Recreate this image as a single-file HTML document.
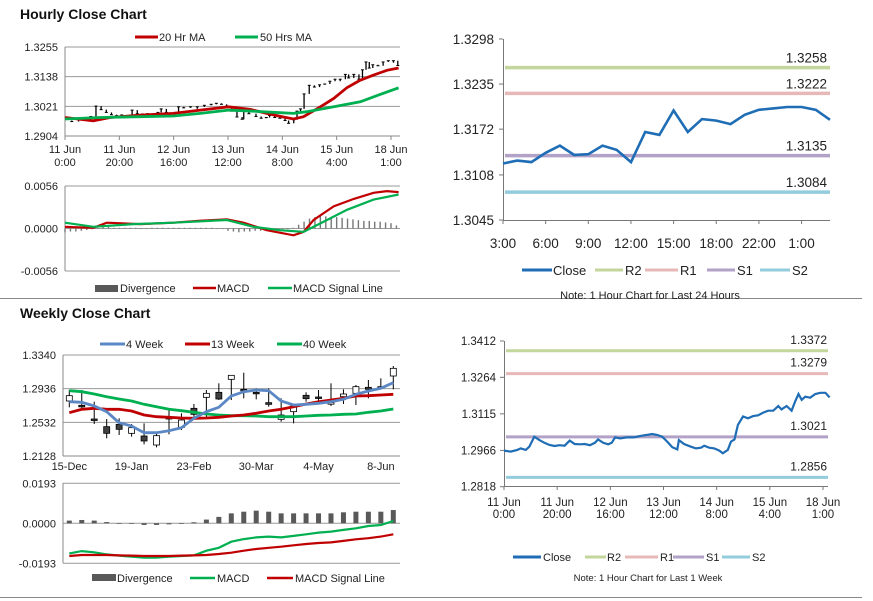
<!DOCTYPE html>
<html><head><meta charset="utf-8"><style>
body{margin:0;background:#fff;}
svg{display:block;font-family:"Liberation Sans",Arial,sans-serif;}
</style></head><body>
<svg id="c" width="873" height="601" viewBox="0 0 873 601" xmlns="http://www.w3.org/2000/svg">
<rect width="873" height="601" fill="#fff"/>
<text x="20" y="19" font-size="14" font-weight="bold" fill="#111">Hourly Close Chart</text>
<text x="20" y="318" font-size="14" font-weight="bold" fill="#111">Weekly Close Chart</text>
<line x1="0" y1="298.5" x2="862" y2="298.5" stroke="#888"/>
<line x1="0" y1="597.5" x2="862" y2="597.5" stroke="#888"/>
<g font-size="11" fill="#222">
<g><line x1="135" y1="37" x2="158" y2="37" stroke="#c00000" stroke-width="3"/><text x="159" y="41">20 Hr MA</text></g>
<g><line x1="235" y1="37" x2="258" y2="37" stroke="#00b050" stroke-width="3"/><text x="260" y="41">50 Hrs MA</text></g>
<g><rect x="95" y="285" width="23" height="7" fill="#595959"/><text x="120" y="292">Divergence</text></g>
<g><line x1="193" y1="288" x2="216" y2="288" stroke="#c00000" stroke-width="2.5"/><text x="217" y="292">MACD</text></g>
<g><line x1="268" y1="288" x2="292" y2="288" stroke="#00b050" stroke-width="2.5"/><text x="293" y="292">MACD Signal Line</text></g>
<g><line x1="100" y1="344" x2="125" y2="344" stroke="#5b87c5" stroke-width="3"/><text x="126" y="348">4 Week</text></g>
<g><line x1="185" y1="344" x2="210" y2="344" stroke="#c00000" stroke-width="3"/><text x="211" y="348">13 Week</text></g>
<g><line x1="277" y1="344" x2="302" y2="344" stroke="#00b050" stroke-width="3"/><text x="303" y="348">40 Week</text></g>
<g><rect x="92" y="574" width="24" height="7" fill="#595959"/><text x="117" y="582">Divergence</text></g>
<g><line x1="190" y1="578" x2="215" y2="578" stroke="#00b050" stroke-width="2.5"/><text x="217" y="582">MACD</text></g>
<g><line x1="267" y1="578" x2="293" y2="578" stroke="#c00000" stroke-width="2.5"/><text x="295" y="582">MACD Signal Line</text></g>
</g>
<g font-size="13" fill="#222">
<g><line x1="522" y1="270" x2="552" y2="270" stroke="#1f6db5" stroke-width="3"/><text x="553" y="275">Close</text></g>
<g><line x1="595" y1="270" x2="623" y2="270" stroke="#c3d69b" stroke-width="3"/><text x="625" y="275">R2</text></g>
<g><line x1="645" y1="270" x2="678" y2="270" stroke="#e6b9b8" stroke-width="3"/><text x="680" y="275">R1</text></g>
<g><line x1="707" y1="270" x2="735" y2="270" stroke="#b3a2c7" stroke-width="3"/><text x="737" y="275">S1</text></g>
<g><line x1="760" y1="270" x2="790" y2="270" stroke="#93cddd" stroke-width="3"/><text x="792" y="275">S2</text></g>
</g>
<text x="650" y="299" font-size="11" text-anchor="middle" fill="#222">Note: 1 Hour Chart for Last 24 Hours</text>
<g font-size="11" fill="#222">
<g><line x1="513" y1="557" x2="541" y2="557" stroke="#1f6db5" stroke-width="3"/><text x="543" y="561">Close</text></g>
<g><line x1="585" y1="557" x2="606" y2="557" stroke="#c3d69b" stroke-width="3"/><text x="607" y="561">R2</text></g>
<g><line x1="625" y1="557" x2="658" y2="557" stroke="#e6b9b8" stroke-width="3"/><text x="660" y="561">R1</text></g>
<g><line x1="673" y1="557" x2="704" y2="557" stroke="#b3a2c7" stroke-width="3"/><text x="706" y="561">S1</text></g>
<g><line x1="722" y1="557" x2="750" y2="557" stroke="#93cddd" stroke-width="3"/><text x="752" y="561">S2</text></g>
</g>
<text x="648" y="581" font-size="9.5" text-anchor="middle" fill="#222">Note: 1 Hour Chart for  Last 1 Week</text>
</svg>
<script>
// ---- data ----
const weekHours=[0,2.5,5,6.3,8.2,9.5,11.4,13.3,15.2,17.1,19,20.9,22.8,24.7,26.6,28.5,30.4,32.3,34.2,35.4,37.3,39.2,40.5,41.8,43.7,46.2,48.7,51.3,53.8,55.7,57.6,59.5,61.4,63.3,65.2,65.8,67.7,70.3,72.2,74.1,75.3,77.2,79.1,81,82.3,84.2,85.4,86.7,88,89.9,91.8,93.7,95.6,97.5,99.4,101.3,103.2,104.4,106.3,108.2,109.5,110.8,112,113.3,115.2,117.1,119,120.9,122.5];
const weekClose=[1.2965,1.2961,1.2968,1.2974,1.2968,1.2981,1.3022,1.3008,1.2997,1.2988,1.2984,1.2987,1.2985,1.3006,1.2992,1.2991,1.2992,1.2987,1.2997,1.3011,1.2997,1.2991,1.2997,1.3019,1.3015,1.3019,1.3019,1.3025,1.3029,1.3033,1.3029,1.3022,1.3002,1.2979,1.2970,1.3008,1.2992,1.2981,1.2974,1.2977,1.2985,1.2977,1.2974,1.2965,1.2954,1.2968,1.3002,1.3011,1.3070,1.3104,1.3097,1.3106,1.3109,1.3120,1.3128,1.3128,1.3147,1.3133,1.3147,1.3128,1.3165,1.3196,1.3172,1.3185,1.3181,1.3196,1.3201,1.3201,1.3182];
const ma20Hours=[0,10.4,16.6,27.6,39.9,49.8,60.2,68.2,74.3,79.9,84.1,87.8,94,98.9,103.8,108.7,113.6,118.5,122.8];
const ma20=[1.2977,1.2964,1.2977,1.2986,1.2993,1.3006,1.3019,1.3009,1.2993,1.2980,1.2971,1.2980,1.3019,1.3052,1.3095,1.3124,1.3144,1.3163,1.3172];
const ma50Hours=[0,12.9,27.6,39.9,49.8,60.2,69.4,79.2,84.1,89,98.9,108.7,116,122.8];
const ma50=[1.2971,1.2977,1.2980,1.2983,1.2993,1.3006,1.3002,1.2996,1.2993,1.3000,1.3019,1.3039,1.3068,1.3094];
const hMacdHours=[0,10.4,15.4,27.6,39.9,49.8,59.6,65.7,74.3,84.1,87.8,91.5,98.9,106.3,113.6,118.5,122.8];
const hMacd=[0.00022,0.00009,0.00076,0.00058,0.00076,0.00103,0.00121,0.00076,-0.00022,-0.00090,-0.00045,0.00112,0.00291,0.00390,0.00470,0.00493,0.00479];
const hSigHours=[0,10.4,25.2,39.9,59.6,69.4,79.2,87.8,94,103.8,113.6,122.8];
const hSig=[0.00076,0.00022,0.00058,0.00076,0.00112,0.00022,-0.00022,-0.00045,0.00067,0.00246,0.00381,0.00448];
const hDiv=[-0.0005,-0.0004,-0.0004,-0.0003,-0.0002,-0.0001,0.0001,0.0002,0.0002,0.0001,0.0001,0.0001,0.0001,0.0001,0.0000,0.0000,0.0001,0.0001,0.0001,0.0001,0.0001,0.0001,0.0001,0.0001,0.0001,0.0001,0.0001,0.0001,0.0000,0.0000,-0.0003,-0.0004,-0.0005,-0.0004,-0.0004,-0.0003,-0.0003,-0.0003,-0.0002,-0.0002,-0.0001,-0.0001,0.0001,0.0005,0.0009,0.0013,0.0015,0.0016,0.0016,0.0015,0.0015,0.0014,0.0013,0.0012,0.0011,0.0010,0.0010,0.0009,0.0009,0.0008,0.0007,0.0004];
const dayClose=[1.3124,1.3128,1.3126,1.3139,1.3149,1.3136,1.3137,1.3149,1.3143,1.3126,1.3168,1.3164,1.3198,1.3168,1.3186,1.3184,1.3179,1.3192,1.3199,1.3201,1.3203,1.3203,1.3199,1.3185];
const dayTicks=["3:00","6:00","9:00","12:00","15:00","18:00","22:00","1:00"];
const dayLevelNames=["R2","R1","S1","S2"];
const dayLevels=[1.3258,1.3222,1.3135,1.3084];
const weekLevels=[1.3372,1.3279,1.3021,1.2856];
const hourTicksTop=["11 Jun","11 Jun","12 Jun","13 Jun","14 Jun","15 Jun","18 Jun"];
const hourTicksBot=["0:00","20:00","16:00","12:00","8:00","4:00","1:00"];
const hPriceTicks=[1.2904,1.3021,1.3138,1.3255];
const hMacdTicks=[-0.0056,0.0000,0.0056];
const dayPriceTicks=[1.3045,1.3108,1.3172,1.3235,1.3298];
const wkPriceTicks=[1.2818,1.2966,1.3115,1.3264,1.3412];
const wOpen=[1.2788,1.2736,1.2572,1.2480,1.2508,1.2400,1.2368,1.2260,1.2592,1.2472,1.2700,1.2832,1.2892,1.3048,1.2928,1.2892,1.2768,1.2568,1.2660,1.2856,1.2836,1.2752,1.2840,1.2880,1.2952,1.2960,1.3088];
const wClose=[1.2852,1.2720,1.2556,1.2400,1.2448,1.2468,1.2308,1.2372,1.2572,1.2560,1.2628,1.2880,1.2812,1.3096,1.2912,1.2876,1.2748,1.2620,1.2728,1.2816,1.2828,1.2768,1.2872,1.2960,1.2928,1.2944,1.3180];
const wHigh=[1.2920,1.2920,1.2780,1.2572,1.2580,1.2512,1.2520,1.2408,1.2680,1.2640,1.2752,1.2920,1.3000,1.3096,1.3128,1.2940,1.2940,1.2820,1.2740,1.2892,1.2920,1.3000,1.2928,1.2980,1.3040,1.3060,1.3208];
const wLow=[1.2712,1.2680,1.2512,1.2340,1.2380,1.2360,1.2268,1.2232,1.2388,1.2440,1.2600,1.2592,1.2800,1.2800,1.2820,1.2808,1.2720,1.2540,1.2520,1.2780,1.2760,1.2728,1.2752,1.2740,1.2820,1.2928,1.2928];
const w4=[1.278,1.2772,1.2728,1.266,1.2528,1.2488,1.2408,1.2408,1.2432,1.2468,1.258,1.266,1.2712,1.2848,1.29,1.292,1.2912,1.2788,1.274,1.2748,1.276,1.278,1.2808,1.2868,1.2908,1.294,1.3008];
const w13=[1.2648,1.2688,1.27,1.2688,1.2688,1.2668,1.262,1.26,1.2592,1.2584,1.258,1.2584,1.2592,1.2608,1.262,1.264,1.2668,1.2688,1.272,1.2752,1.278,1.28,1.282,1.2848,1.2852,1.286,1.2868];
const w40=[1.2912,1.29,1.2872,1.284,1.2812,1.2788,1.2748,1.272,1.2688,1.2672,1.2652,1.2632,1.262,1.2612,1.2612,1.2608,1.26,1.26,1.26,1.2608,1.2616,1.262,1.2628,1.2632,1.2652,1.2668,1.2692];
const wDiv=[0.0013,0.0016,0.0013,0.0006,-0.0002,-0.0002,-0.0008,-0.0008,-0.0005,0.0000,0.0005,0.0018,0.0031,0.0048,0.0056,0.0061,0.0056,0.0048,0.0048,0.0048,0.0048,0.0048,0.0053,0.0056,0.0056,0.0056,0.0064];
const wMacd=[-0.0145,-0.0134,-0.0140,-0.0150,-0.0156,-0.0161,-0.0166,-0.0166,-0.0161,-0.0158,-0.0155,-0.0132,-0.0118,-0.0089,-0.0076,-0.0068,-0.0064,-0.0068,-0.0061,-0.0053,-0.0045,-0.0040,-0.0032,-0.0024,-0.0013,-0.0008,0.0011];
const wSig=[-0.0158,-0.0153,-0.0153,-0.0153,-0.0155,-0.0156,-0.0158,-0.0158,-0.0158,-0.0156,-0.0155,-0.0153,-0.0148,-0.0142,-0.0132,-0.0124,-0.0118,-0.0113,-0.0106,-0.0100,-0.0095,-0.0092,-0.0085,-0.0077,-0.0072,-0.0064,-0.0053];
const wPriceTicks=[1.2128,1.2532,1.2936,1.3340];
const wMacdTicks=[-0.0193,0.0000,0.0193];
const wLabels=["15-Dec","19-Jan","23-Feb","30-Mar","4-May","8-Jun"];

// ---- helpers ----
const svg=document.getElementById('c');
const NS='http://www.w3.org/2000/svg';
function lin(d0,d1,r0,r1){return v=>r0+(v-d0)*(r1-r0)/(d1-d0);}
function mk(tag,a){const e=document.createElementNS(NS,tag);for(const k in a)e.setAttribute(k,a[k]);svg.appendChild(e);return e;}
function pts(xs,ys,fx,fy){return xs.map((x,i)=>fx(x).toFixed(1)+','+fy(ys[i]).toFixed(1)).join(' ');}
function idx(n){return Array.from({length:n},(_,i)=>i);}

// ---- axes scales ----
const x1=lin(0,120,65,391), y1=lin(1.2904,1.3255,136,47);
const y2=lin(-0.0056,0.0056,271,186);
const x3=lin(0,23,503,830), y3=lin(1.3045,1.3298,220,39);
const x4=lin(0,120,504,823), y4=lin(1.2818,1.3412,486.7,341);
const x5=lin(0,26,69.3,393.3), y5=lin(1.2128,1.3340,456,355);
const y6=lin(-0.0193,0.0193,563.3,483.3);

let e;
// Panel 1 grid & ticks
hPriceTicks.forEach((v,i)=>{
  e=mk('line',{x1:65,x2:400,y1:y1(v),y2:y1(v),stroke:i==0?'#888':'#999','stroke-width':1});
  
  
  e=mk('text',{x:58,y:y1(v)+4,'font-size':11,'text-anchor':'end',fill:'#222'});e.textContent=v.toFixed(4);
  
  
});
e=mk('line',{x1:65,x2:65,y1:47,y2:136,stroke:'#888'});


hourTicksTop.forEach((t,i)=>{
  const xx=x1(i*20);
  mk('line',{x1:xx,x2:xx,y1:136,y2:140,stroke:'#888'});
  e=mk('text',{x:xx,y:153,'font-size':11,'text-anchor':'middle',fill:'#222'});e.textContent=t;
  
  
  e=mk('text',{x:xx,y:166,'font-size':11,'text-anchor':'middle',fill:'#222'});e.textContent=hourTicksBot[i];
  
  
});
// candles (hourly) from closes
weekClose.forEach((c,i)=>{if(i==0)return;const p=weekClose[i-1];const xx=x1(weekHours[i]);
  e=mk('line',{x1:xx,x2:xx,y1:y1(p),y2:y1(c)+(Math.abs(c-p)<0.0002?2:0),stroke:'#000','stroke-width':1.3});
  
  
  mk('line',{x1:xx-1.5,x2:xx+1.5,y1:y1(c),y2:y1(c),stroke:'#000','stroke-width':1});
});
e=mk('polyline',{points:pts(ma20Hours,ma20,x1,y1),fill:'none',stroke:'#c00000','stroke-width':2.8});


e=mk('polyline',{points:pts(ma50Hours,ma50,x1,y1),fill:'none',stroke:'#00b050','stroke-width':2.8});



// Panel 2 MACD hourly
hMacdTicks.forEach(v=>{
  e=mk('line',{x1:65,x2:400,y1:y2(v),y2:y2(v),stroke:'#999'});
  
  
  e=mk('text',{x:58,y:y2(v)+4,'font-size':11,'text-anchor':'end',fill:'#222'});e.textContent=v.toFixed(4);
  
  
});
mk('line',{x1:65,x2:65,y1:186,y2:271,stroke:'#888'});
hDiv.forEach((v,i)=>{const xx=x1(i*2);const a=y2(v),b=y2(0);
  e=mk('rect',{x:xx-0.7,y:Math.min(a,b),width:1.4,height:Math.max(0.6,Math.abs(a-b)),fill:'#777'});
  
  
});
e=mk('polyline',{points:pts(hMacdHours,hMacd,x1,y2),fill:'none',stroke:'#c00000','stroke-width':2.2});


e=mk('polyline',{points:pts(hSigHours,hSig,x1,y2),fill:'none',stroke:'#00b050','stroke-width':2.2});



// Panel 3 right top (24h)
const lvlColors=['#c3d69b','#e6b9b8','#b3a2c7','#93cddd'];
mk('line',{x1:503.5,x2:503.5,y1:39,y2:220,stroke:'#777'});
mk('line',{x1:503,x2:830,y1:220.5,y2:220.5,stroke:'#777'});
dayPriceTicks.forEach(v=>{
  mk('line',{x1:499,x2:503,y1:y3(v),y2:y3(v),stroke:'#777'});
  e=mk('text',{x:494,y:y3(v)+5,'font-size':13.5,'text-anchor':'end',fill:'#222'});e.textContent=v.toFixed(4);
  
  
});
dayTicks.forEach((t,i)=>{const xx=x3(i*3);
  mk('line',{x1:xx,x2:xx,y1:220,y2:224,stroke:'#777'});
  e=mk('text',{x:xx,y:248,'font-size':13.5,'text-anchor':'middle',fill:'#222'});e.textContent=t;
  
  
});
dayLevels.forEach((v,i)=>{
  e=mk('line',{x1:505,x2:830,y1:y3(v),y2:y3(v),stroke:lvlColors[i],'stroke-width':3.5});
  
  
  e=mk('text',{x:827,y:y3(v)-5,'font-size':13.5,'text-anchor':'end',fill:'#222'});e.textContent=v.toFixed(4);
  
  
});
e=mk('polyline',{points:pts(idx(dayClose.length),dayClose,x3,y3),fill:'none',stroke:'#1f6db5','stroke-width':2.6});



// Panel 4 right bottom (1 week)
mk('line',{x1:504.5,x2:504.5,y1:341,y2:487,stroke:'#777'});
mk('line',{x1:504,x2:828,y1:486.5,y2:486.5,stroke:'#777'});
wkPriceTicks.forEach(v=>{
  mk('line',{x1:500,x2:504,y1:y4(v),y2:y4(v),stroke:'#777'});
  e=mk('text',{x:496,y:y4(v)+4,'font-size':11.5,'text-anchor':'end',fill:'#222'});e.textContent=v.toFixed(4);
  
  
});
hourTicksTop.forEach((t,i)=>{const xx=x4(i*20);
  mk('line',{x1:xx,x2:xx,y1:486,y2:490,stroke:'#777'});
  e=mk('text',{x:xx,y:506,'font-size':11.5,'text-anchor':'middle',fill:'#222'});e.textContent=t;
  
  
  e=mk('text',{x:xx,y:518,'font-size':11.5,'text-anchor':'middle',fill:'#222'});e.textContent=hourTicksBot[i];
  
  
});
weekLevels.forEach((v,i)=>{
  e=mk('line',{x1:506,x2:828,y1:y4(v),y2:y4(v),stroke:lvlColors[i],'stroke-width':3});
  
  
  e=mk('text',{x:827,y:y4(v)-7,'font-size':12,'text-anchor':'end',fill:'#222'});e.textContent=v.toFixed(4);
  
  
});
e=mk('polyline',{points:pts(weekHours,weekClose,x4,y4),fill:'none',stroke:'#1f6db5','stroke-width':2.2});



// Panel 5 weekly candles
wPriceTicks.forEach((v,i)=>{
  e=mk('line',{x1:63,x2:400,y1:y5(v),y2:y5(v),stroke:i==0?'#888':'#999'});
  
  
  e=mk('text',{x:56,y:y5(v)+4,'font-size':11,'text-anchor':'end',fill:'#222'});e.textContent=v.toFixed(4);
  
  
});
mk('line',{x1:63,x2:63,y1:355,y2:456,stroke:'#888'});
wLabels.forEach((t,i)=>{const xx=x5(i*5);
  e=mk('text',{x:xx,y:470,'font-size':11,'text-anchor':'middle',fill:'#222'});e.textContent=t;
  
  
});
wOpen.forEach((o,i)=>{const c=wClose[i],xx=x5(i);
  e=mk('line',{x1:xx,x2:xx,y1:y5(wHigh[i]),y2:y5(wLow[i]),stroke:'#000','stroke-width':1});
  
  
  const t=y5(Math.max(o,c)),b=y5(Math.min(o,c));
  e=mk('rect',{x:xx-3,y:t,width:6,height:Math.max(1.5,b-t),fill:c>=o?'#fff':'#404040',stroke:'#000','stroke-width':0.8});
  
  
});
[[w40,'#00b050','ma-40week-line'],[w13,'#c00000','ma-13week-line'],[w4,'#5b87c5','ma-4week-line']].forEach(s=>{
  e=mk('polyline',{points:pts(idx(27),s[0],x5,y5),fill:'none',stroke:s[1],'stroke-width':2.8});
  
  
});

// Panel 6 weekly MACD
wMacdTicks.forEach(v=>{
  e=mk('line',{x1:63,x2:400,y1:y6(v),y2:y6(v),stroke:'#999'});
  
  
  e=mk('text',{x:56,y:y6(v)+4,'font-size':11,'text-anchor':'end',fill:'#222'});e.textContent=v.toFixed(4);
  
  
});
mk('line',{x1:63,x2:63,y1:483,y2:563,stroke:'#888'});
wDiv.forEach((v,i)=>{const xx=x5(i),a=y6(v),b=y6(0);
  e=mk('rect',{x:xx-2.5,y:Math.min(a,b),width:5,height:Math.max(0.6,Math.abs(a-b)),fill:'#595959'});
  
  
});
e=mk('polyline',{points:pts(idx(27),wMacd,x5,y6),fill:'none',stroke:'#00b050','stroke-width':2.2});


e=mk('polyline',{points:pts(idx(27),wSig,x5,y6),fill:'none',stroke:'#c00000','stroke-width':2.2});


</script>
</body></html>
